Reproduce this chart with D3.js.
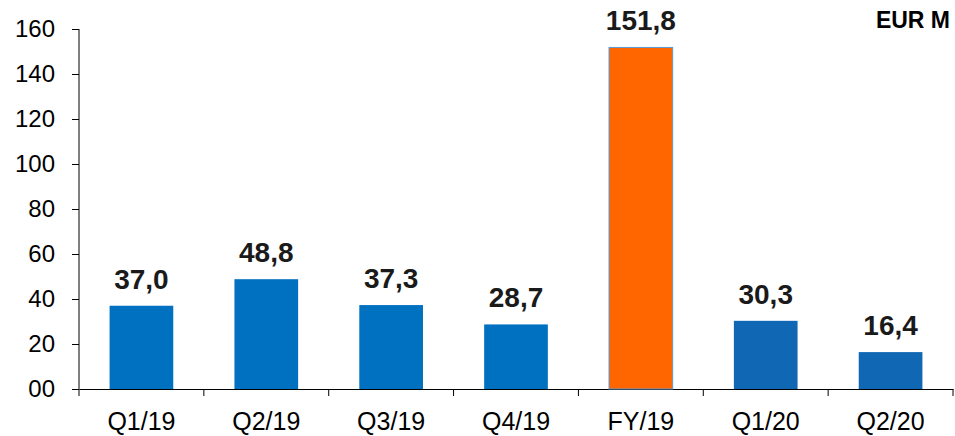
<!DOCTYPE html>
<html>
<head>
<meta charset="utf-8">
<script src="https://cdn.jsdelivr.net/npm/d3@7"></script>
<style>
  body { margin: 0; background: #fff; }
  text { font-family: "Liberation Sans", Arial, sans-serif; }
</style>
</head>
<body>
<div id="chart"></div>
<script>
// chart data
var categories = ["Q1/19", "Q2/19", "Q3/19", "Q4/19", "FY/19", "Q1/20", "Q2/20"];
var values = [37.0, 48.8, 37.3, 28.7, 151.8, 30.3, 16.4];
var yTicks = [0, 20, 40, 60, 80, 100, 120, 140, 160];
var unitLabel = "EUR M";

var svgWidth = 955;
var svgHeight = 436;

var margin = { top: 29, right: 2, bottom: 47, left: 79 };
var width = svgWidth - margin.left - margin.right;
var height = svgHeight - margin.top - margin.bottom;

var svg = d3.select("#chart")
  .append("svg")
  .attr("width", svgWidth)
  .attr("height", svgHeight);

var chartGroup = svg.append("g")
  .attr("transform", `translate(${margin.left}, ${margin.top})`);

// scales
var xScale = d3.scaleBand()
  .domain(categories)
  .range([0, width])
  .paddingInner(0.49)
  .paddingOuter(0.245);

var yScale = d3.scaleLinear()
  .domain([0, 160])
  .range([height, 0]);

function barColor(d, i) {
  if (categories[i] === "FY/19") return "#ff6600";
  if (i > 4) return "#1067b4";
  return "#0070c0";
}

// y axis
var leftAxis = d3.axisLeft(yScale)
  .tickValues(yTicks)
  .tickSize(7)
  .tickPadding(17)
  .tickFormat(d => d === 0 ? "00" : d);

var yAxis = chartGroup.append("g").call(leftAxis);
yAxis.select(".domain")
  .attr("d", `M0,0V${height + 7}`)
  .attr("stroke", "#000");
yAxis.selectAll(".tick line").attr("stroke", "#000");
yAxis.selectAll(".tick text")
  .style("font-size", "24px")
  .attr("fill", "#000");

// x axis (labels only, boundary ticks drawn below)
var bottomAxis = d3.axisBottom(xScale).tickSize(0).tickPadding(23);
var xAxis = chartGroup.append("g")
  .attr("transform", `translate(0, ${height})`)
  .call(bottomAxis);
xAxis.select(".domain").attr("stroke", "#000");
xAxis.selectAll(".tick text")
  .style("font-size", "25px")
  .attr("fill", "#000");

// category boundary ticks
chartGroup.selectAll(".btick")
  .data(categories)
  .enter()
  .append("line")
  .attr("class", "btick")
  .attr("x1", d => xScale(d) - xScale.step() * xScale.paddingInner() / 2 + xScale.step())
  .attr("x2", d => xScale(d) - xScale.step() * xScale.paddingInner() / 2 + xScale.step())
  .attr("y1", height)
  .attr("y2", height + 7)
  .attr("stroke", "#000");

// bars
chartGroup.selectAll("rect.bar")
  .data(values)
  .enter()
  .append("rect")
  .attr("class", "bar")
  .attr("x", (d, i) => xScale(categories[i]))
  .attr("y", d => yScale(d))
  .attr("width", xScale.bandwidth())
  .attr("height", d => height - yScale(d))
  .attr("fill", barColor)
  .attr("stroke", (d, i) => categories[i] === "FY/19" ? "#5b9bd5" : "none")
  .attr("stroke-width", 1);

// value labels
chartGroup.selectAll("text.val")
  .data(values)
  .enter()
  .append("text")
  .attr("class", "val")
  .attr("x", (d, i) => xScale(categories[i]) + xScale.bandwidth() / 2)
  .attr("y", d => yScale(d) - 17)
  .attr("text-anchor", "middle")
  .style("font-size", "28px")
  .style("font-weight", "bold")
  .attr("fill", "#1a1a1a")
  .text(d => d.toFixed(1).replace(".", ","));

// unit label
svg.append("text")
  .attr("x", 950)
  .attr("y", 28)
  .attr("text-anchor", "end")
  .style("font-size", "23px")
  .style("font-weight", "bold")
  .attr("fill", "#000")
  .text(unitLabel);
</script>
</body>
</html>
